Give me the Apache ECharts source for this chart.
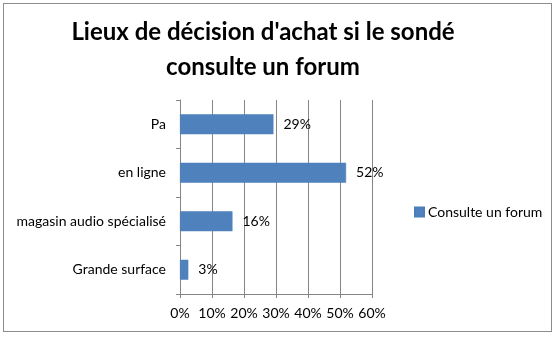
<!DOCTYPE html>
<html><head><meta charset="utf-8">
<script src="https://cdn.jsdelivr.net/npm/echarts@6/dist/echarts.min.js"></script>
<style>
html,body{margin:0;padding:0;background:#fff;}
#frame{position:absolute;left:3px;top:3px;width:549px;height:329px;border:1px solid #8c8c8c;box-sizing:border-box;}
#c{position:absolute;left:0;top:0;width:557px;height:337px;}
</style></head>
<body>
<div id="frame"></div>
<div id="c"></div>
<script>
const titleText = "Lieux de décision d'achat si le sondé\nconsulte un forum";
const categories = ['Grande surface', 'magasin audio spécialisé', 'en ligne', 'Pa'];
const seriesName = 'Consulte un forum';
const values = [0.026, 0.164, 0.519, 0.292];
const xTicks = [0, 0.1, 0.2, 0.3, 0.4, 0.5, 0.6];

const FONT = 'Lato';
const chart = echarts.init(document.getElementById('c'), null, {renderer:'canvas'});
chart.setOption({
  animation:false,
  textStyle:{fontFamily:FONT},
  title:{
    text:titleText, left:258, textAlign:'center', top:10,
    textStyle:{fontFamily:FONT, fontWeight:'bold', fontSize:24, lineHeight:35, color:'#000'}
  },
  legend:{
    left:409, top:200, icon:'rect', itemWidth:9, itemHeight:9, itemGap:4,
    textStyle:{fontFamily:FONT, fontSize:14, color:'#000', padding:[0,0,0,-1]},
    data:[seriesName]
  },
  grid:{left:180, right:185, top:100, bottom:43, containLabel:false},
  xAxis:{
    type:'value', min:xTicks[0], max:xTicks[xTicks.length-1], interval:0.1,
    axisLine:{show:true, lineStyle:{color:'#868686'}},
    axisTick:{show:true, length:4, lineStyle:{color:'#868686'}},
    splitLine:{show:true, lineStyle:{color:'#868686'}},
    axisLabel:{margin:12, fontSize:14, color:'#000', fontFamily:FONT,
      formatter:v=>Math.round(v*100)+'%'}
  },
  yAxis:{
    type:'category', data:categories,
    axisLine:{show:true, lineStyle:{color:'#868686'}},
    axisTick:{show:true, length:4, alignWithLabel:false, lineStyle:{color:'#868686'}},
    axisLabel:{margin:14, fontSize:14, color:'#000', fontFamily:FONT}
  },
  series:[{
    name:seriesName, type:'bar', data:values, barWidth:20,
    itemStyle:{color:'#4F81BD', borderColor:'#4A7EBB', borderWidth:0.5},
    label:{show:true, position:'right', distance:10, fontSize:14, color:'#000', fontFamily:FONT,
      formatter:p=>Math.round(p.value*100)+'%'}
  }]
});
</script>
</body></html>
